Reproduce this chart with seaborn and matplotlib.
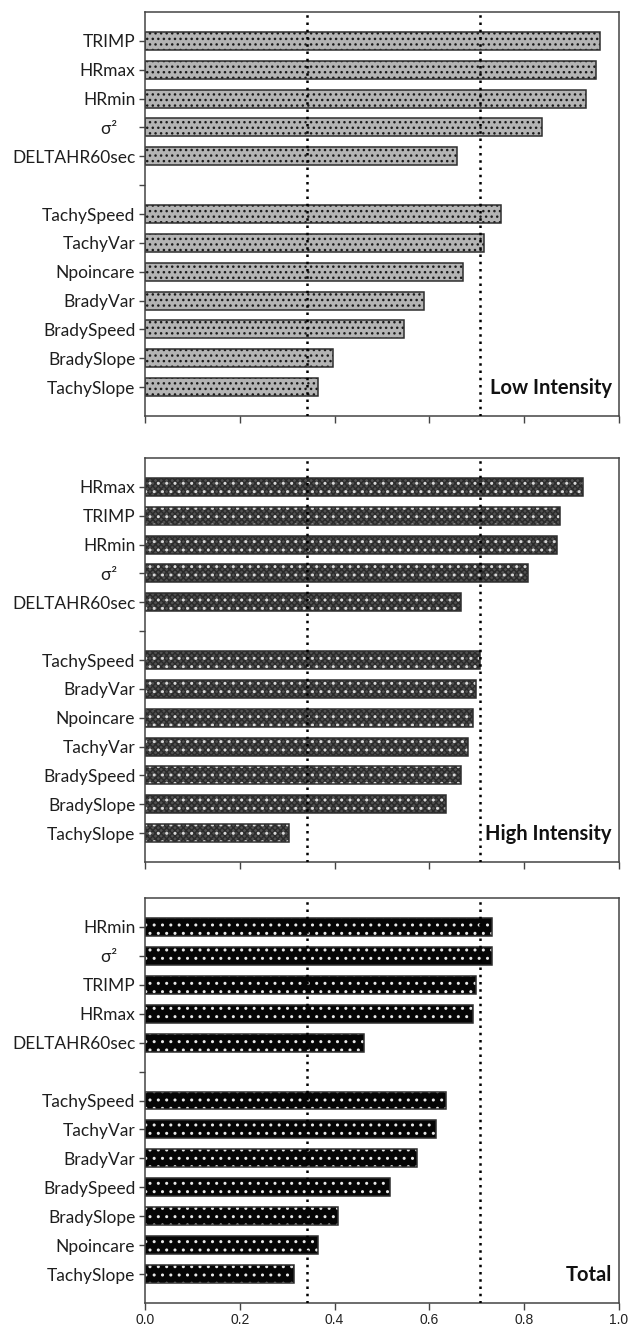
import numpy as np
import pandas as pd
import matplotlib
matplotlib.use("Agg")
import matplotlib.pyplot as plt
import seaborn as sns

sns.set_theme(style="white")
plt.rcParams["font.family"] = ["Lato", "DejaVu Sans"]
plt.rcParams["hatch.linewidth"] = 1.0

# ---- data -------------------------------------------------------------
GAP = " "
SIG = "σ²    "

low_labels = ["TRIMP", "HRmax", "HRmin", SIG, "DELTAHR60sec", GAP,
              "TachySpeed", "TachyVar", "Npoincare", "BradyVar",
              "BradySpeed", "BradySlope", "TachySlope"]
low_values = [0.960, 0.951, 0.930, 0.837, 0.658, None,
              0.752, 0.716, 0.670, 0.588, 0.547, 0.397, 0.364]

high_labels = ["HRmax", "TRIMP", "HRmin", SIG, "DELTAHR60sec", GAP,
               "TachySpeed", "BradyVar", "Npoincare", "TachyVar",
               "BradySpeed", "BradySlope", "TachySlope"]
high_values = [0.923, 0.876, 0.870, 0.809, 0.667, None,
               0.706, 0.698, 0.693, 0.682, 0.667, 0.636, 0.303]

total_labels = ["HRmin", SIG, "TRIMP", "HRmax", "DELTAHR60sec", GAP,
                "TachySpeed", "TachyVar", "BradyVar", "BradySpeed",
                "BradySlope", "Npoincare", "TachySlope"]
total_values = [0.733, 0.733, 0.698, 0.691, 0.463, None,
                0.634, 0.613, 0.573, 0.517, 0.408, 0.364, 0.314]

panel_titles = ["Low Intensity", "High Intensity", "Total"]
thresholds = [0.342, 0.706]
x_ticks = [0.0, 0.2, 0.4, 0.6, 0.8, 1.0]

# ---- styles: (face colour, [(hatch, hatch colour), ...]) ---------------
styles = [
    ("#b4b4b4", [("...", "#1a1a1a")]),
    ("#505050", [("xxxxxx", "#2a2a2a"), ("..", "#d8d8d8")]),
    ("#050505", [("..", "#e8e8e8")]),
]

fig = plt.figure(figsize=(6.3, 13.31), dpi=100)
left, right = 145 / 630, 619 / 630
boxes = [(12, 416), (458, 862), (898, 1303)]
H = 1331


def draw_panel(ax, labels, values, style, title, show_xlabels):
    df = pd.DataFrame({"label": labels, "value": values}).dropna()
    order = list(labels)
    face, hatches = style
    # base fill
    sns.barplot(data=df, x="value", y="label", order=order, orient="h",
                color=face, saturation=1, errorbar=None, width=0.62,
                linewidth=0, edgecolor=face, ax=ax)
    # texture layers
    for hatch, hcol in hatches:
        sns.barplot(data=df, x="value", y="label", order=order, orient="h",
                    color=face, saturation=1, errorbar=None, width=0.62,
                    linewidth=0, edgecolor=hcol, hatch=hatch, ax=ax)
        for p in ax.patches[-len(df):]:
            p.set_facecolor("none")
    # outline
    sns.barplot(data=df, x="value", y="label", order=order, orient="h",
                color="#2e2e2e", fill=False, errorbar=None, width=0.62,
                linewidth=1.1, ax=ax)

    for t in thresholds:
        ax.axvline(t, color="black", linestyle=(0, (1, 1.9)),
                   linewidth=1.8, zorder=5)

    ax.set_xlim(0, 1.0)
    ax.set_ylim(13, -1)
    ax.set_xticks(x_ticks)
    ax.set_xlabel("")
    ax.set_ylabel("")
    ax.tick_params(axis="x", direction="out", length=5, width=1,
                   color="#444444", bottom=True, labelbottom=show_xlabels,
                   labelsize=10, labelcolor="#222222", pad=2)
    ax.tick_params(axis="y", direction="out", length=4, width=1,
                   color="#444444", left=True, labelsize=12.5,
                   labelcolor="#1e1e1e", pad=3)
    if show_xlabels:
        ax.set_xticklabels([f"{v:.1f}" for v in x_ticks],
                           family=["Liberation Sans", "DejaVu Sans"])
    for s in ax.spines.values():
        s.set_visible(True)
        s.set_color("#444444")
        s.set_linewidth(1.1)
    ax.grid(False)
    ax.text(0.985, 0.045, title, transform=ax.transAxes, ha="right",
            va="bottom", fontsize=14.5, fontweight="bold", color="#111111",
            zorder=6)


all_labels = [low_labels, high_labels, total_labels]
all_values = [low_values, high_values, total_values]
for i, (top, bot) in enumerate(boxes):
    ax = fig.add_axes([left, 1 - bot / H, right - left, (bot - top) / H])
    draw_panel(ax, all_labels[i], all_values[i], styles[i], panel_titles[i],
               show_xlabels=(i == 2))

fig.savefig("out.png", dpi=100, facecolor="white")
